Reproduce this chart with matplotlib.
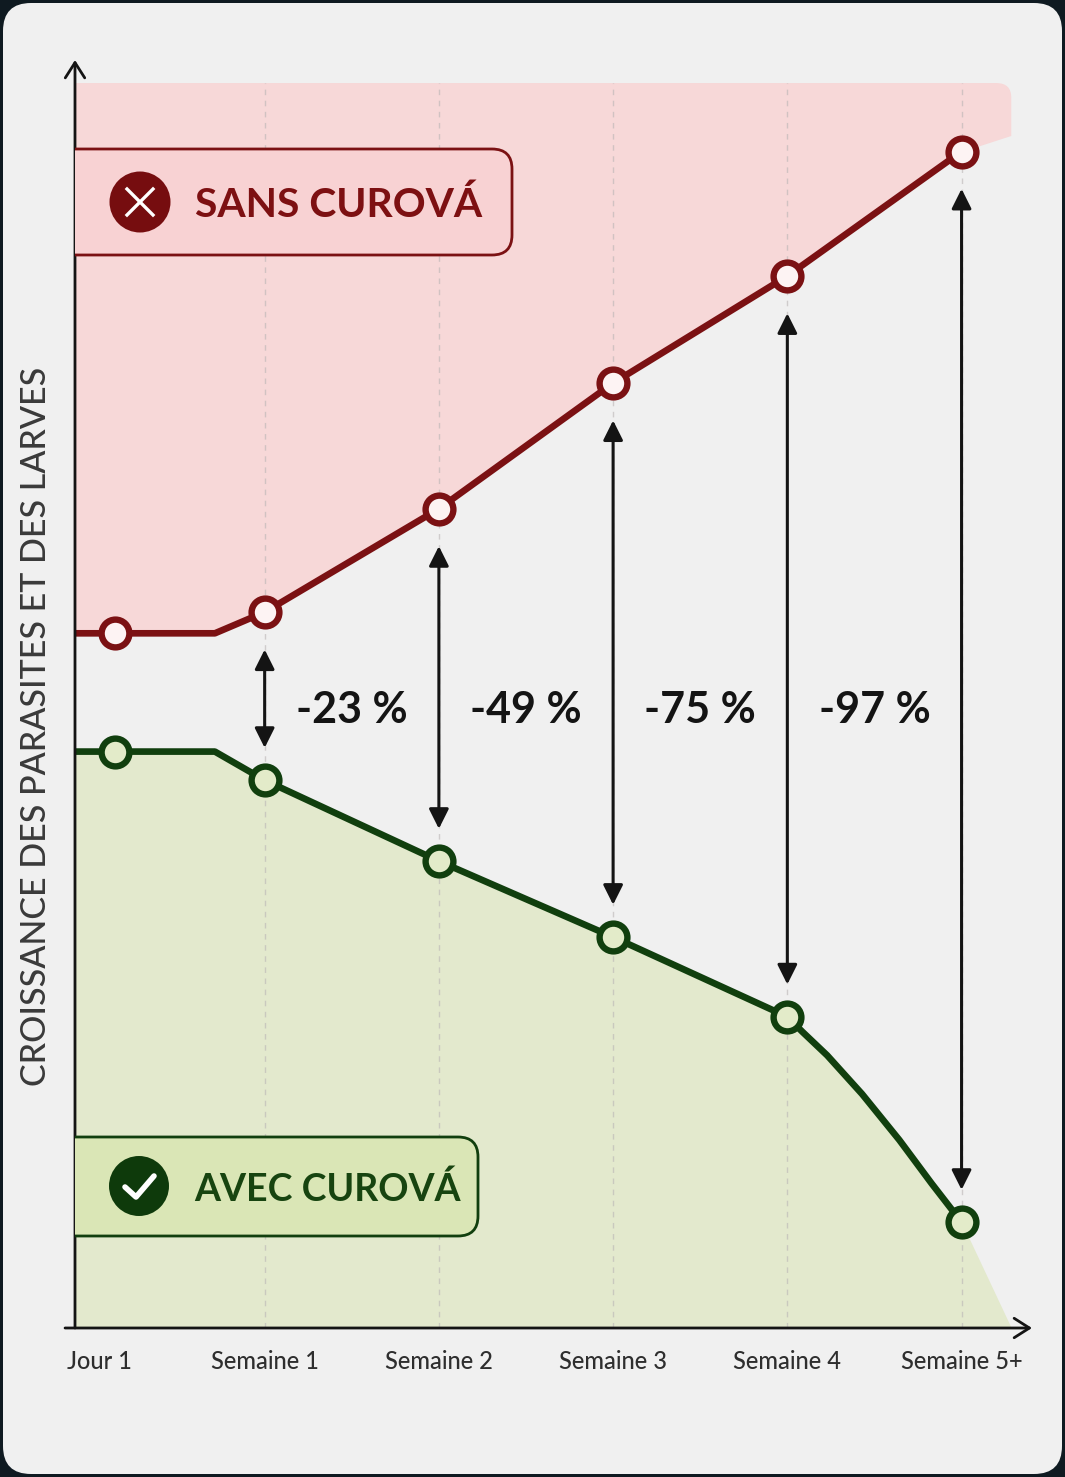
import matplotlib
matplotlib.use("Agg")
import matplotlib.pyplot as plt
import matplotlib.transforms as mtrans
from matplotlib.patches import FancyBboxPatch, Circle
from matplotlib.lines import Line2D

# ---------------- data ----------------
categories = ["Jour 1", "Semaine 1", "Semaine 2", "Semaine 3", "Semaine 4", "Semaine 5+"]
jours = [1, 7, 14, 21, 28, 35]
sans_curova = [55.8, 57.5, 65.8, 75.9, 84.5, 94.5]
avec_curova = [46.3, 44.0, 37.5, 31.4, 25.0, 8.5]
reductions = ["-23 %", "-49 %", "-75 %", "-97 %"]
plateau_fin = 5                      # end of the initial plateau (day)
courbe_jours = [28.6, 29.6, 31.0, 32.5, 33.8]   # bend of the "avec" curve after week 4
courbe_avec = [23.8, 21.9, 18.8, 15.1, 11.6]
zone_fin = 37.0                      # right end of the coloured zones
sans_zone_fin = 95.8
plafond = 100

# ---------------- style ----------------
W, H, DPI = 1065, 1477, 100
RED = "#7b1113"
RED_FILL = "#f7d8d8"
RED_BOX = "#f8d2d3"
GREEN = "#113f0e"
GREEN_FILL = "#e3e9cd"
GREEN_BOX = "#dae6b6"
CARD = "#f0f0f0"
INK = "#141414"
FONT = ["Lato", "DejaVu Sans"]
plt.rcParams["font.family"] = FONT

fig = plt.figure(figsize=(W / DPI, H / DPI), dpi=DPI)
fig.patch.set_facecolor("#0f1a21")
px = mtrans.Affine2D().scale(1 / W, 1 / H) + fig.transFigure


def T(y):  # top-based pixel row -> bottom-based
    return H - y


card = FancyBboxPatch((3, 3), W - 6, H - 6, boxstyle="round,pad=0,rounding_size=28",
                      transform=px, fc=CARD, ec="none", zorder=-10)
fig.patches.append(card)

ax = fig.add_axes([75 / W, (H - 1328) / H, (1032 - 75) / W, (1328 - 60) / H])
ax.set_zorder(1)
ax.set_facecolor("none")
ax.set_frame_on(False)
ax.set_xticks([])
ax.set_yticks([])
xmin, xmax = -0.62, 37.83
ax.set_xlim(xmin, xmax)
ax.set_ylim(0, 101.85)

# ---------------- zones ----------------
sx = [xmin, jours[0], plateau_fin] + jours[1:] + [zone_fin]
sy = [sans_curova[0], sans_curova[0], sans_curova[0]] + sans_curova[1:] + [sans_zone_fin]
clip = FancyBboxPatch((xmin - 3, 0), zone_fin - (xmin - 3), plafond,
                      boxstyle="round,pad=0,rounding_size=0.6", mutation_aspect=2.0,
                      transform=ax.transData, fc="none", ec="none")
ax.add_patch(clip)
red_fill = ax.fill_between(sx, sy, plafond, color=RED_FILL, lw=0, zorder=1)
red_fill.set_clip_path(clip)

ax_line_x = [xmin, jours[0], plateau_fin] + jours[1:5] + courbe_jours + [jours[5]]
ax_line_y = [avec_curova[0], avec_curova[0], avec_curova[0]] + avec_curova[1:5] + courbe_avec + [avec_curova[5]]
ax.fill_between(ax_line_x + [zone_fin], ax_line_y + [0], 0, color=GREEN_FILL, lw=0, zorder=1)

# dashed guides
ax.vlines(jours[1:], 0, plafond, colors="#b9b4b4", lw=1.0, linestyles=(0, (4, 4)),
          alpha=0.6, zorder=2)

# ---------------- lines ----------------
ax.plot(sx[:-1], sy[:-1], color=RED, lw=4.8, solid_joinstyle="round", zorder=4)
ax.plot(ax_line_x, ax_line_y, color=GREEN, lw=4.8, solid_joinstyle="round", zorder=4)
ax.plot(jours, sans_curova, "o", ms=20, mew=4.6, mec=RED, mfc="#fdf3f3", zorder=6)
ax.plot(jours, avec_curova, "o", ms=20, mew=4.6, mec=GREEN, mfc="#e3ebc9", zorder=6)

# ---------------- difference arrows ----------------
for d, s, a in zip(jours[1:], sans_curova[1:], avec_curova[1:]):
    ax.annotate("", xy=(d, a + 2.6), xytext=(d, s - 3.0),
                arrowprops=dict(arrowstyle="<|-|>,head_length=0.6,head_width=0.3",
                                mutation_scale=20, lw=2.2, color=INK,
                                shrinkA=0, shrinkB=0), zorder=3)

for i, lab in enumerate(reductions):
    xm = (jours[i + 1] + jours[i + 2]) / 2
    ax.text(xm, 48.6, lab, ha="center", va="baseline", fontsize=31,
            fontweight="bold", color=INK, zorder=5)

# ---------------- axes arrows ----------------
ax.annotate("", xy=(0, 1), xytext=(0, 0), xycoords="axes fraction",
            arrowprops=dict(arrowstyle="->,head_length=0.55,head_width=0.35",
                            mutation_scale=20, lw=2.0, color=INK, shrinkA=0, shrinkB=0),
            annotation_clip=False, zorder=7)
ax.annotate("", xy=(1, 0), xytext=(-0.0104, 0), xycoords="axes fraction",
            arrowprops=dict(arrowstyle="->,head_length=0.55,head_width=0.35",
                            mutation_scale=20, lw=2.0, color=INK, shrinkA=0, shrinkB=0),
            annotation_clip=False, zorder=7)

# tick labels
xt = ax.get_xaxis_transform()
for k, (d, lab) in enumerate(zip(jours, categories)):
    tr = xt
    if k == 0:
        tr = xt + mtrans.Affine2D().translate(-16, 0)
    ax.text(d, -41 / 1268, lab, transform=tr, ha="center", va="baseline",
            fontsize=17, fontweight="medium", color="#2e2e2e", clip_on=False)

# y label
fig.text(36 / W, T(726) / H, "CROISSANCE DES PARASITES ET DES LARVES", rotation=90,
         ha="center", va="center", fontsize=24.5, fontweight="medium", color="#3a3a3a")

# ---------------- legend boxes ----------------
def legend_box(x1, ytop, ybot, fc, ec):
    b = FancyBboxPatch((40, T(ybot)), x1 - 40, ybot - ytop,
                       boxstyle="round,pad=0,rounding_size=20", transform=px,
                       fc=fc, ec=ec, lw=2.0, zorder=8)
    ax.add_patch(b)

legend_box(512, 149, 255, RED_BOX, RED)
legend_box(478, 1137, 1236, GREEN_BOX, GREEN)

ax.add_patch(Circle((140, T(202)), 30.5, transform=px, fc="#760d0f", ec="none", zorder=9))
for dx in (1, -1):
    ax.add_line(Line2D([140 - 13, 140 + 13], [T(202) - 13 * dx, T(202) + 13 * dx],
                       transform=px, color="white", lw=2.4, zorder=10))
ax.text(195, T(217), "SANS CUROVÁ", transform=px, ha="left", va="baseline",
        fontsize=29.3, fontweight="bold", color="#7d1012", zorder=10)

ax.add_patch(Circle((139, T(1186)), 30, transform=px, fc="#0e3a0b", ec="none", zorder=9))
ax.add_line(Line2D([125, 136, 154], [T(1187), T(1197), T(1176)], transform=px,
                   color="white", lw=4.0, solid_capstyle="round",
                   solid_joinstyle="round", zorder=10))
ax.text(194, T(1201), "AVEC CUROVÁ", transform=px, ha="left", va="baseline",
        fontsize=27, fontweight="bold", color="#174410", zorder=10)

fig.savefig("out.png", dpi=DPI, facecolor=fig.get_facecolor())
